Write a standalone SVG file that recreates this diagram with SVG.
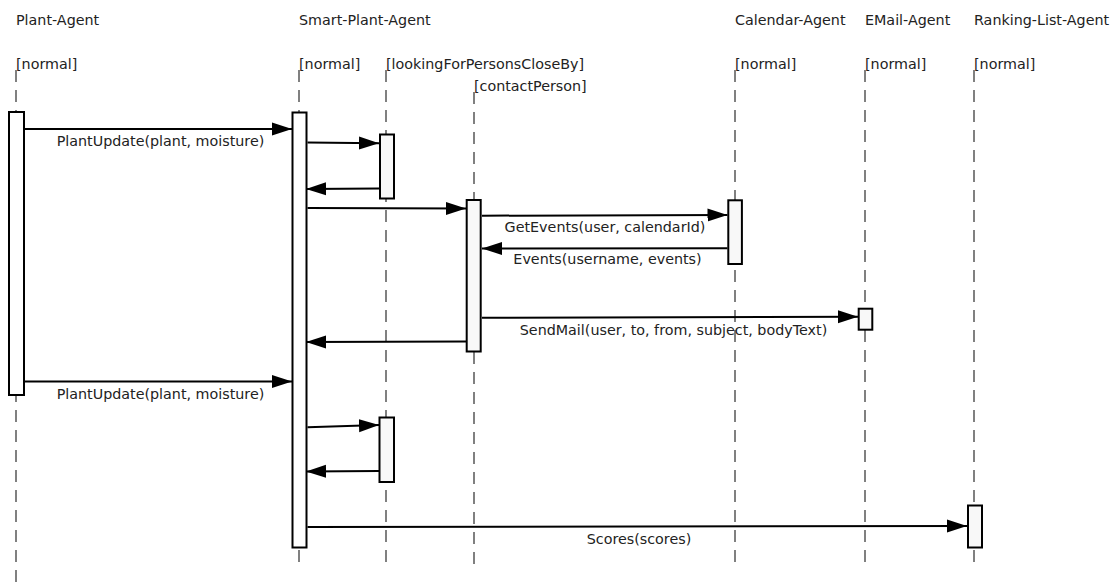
<svg xmlns="http://www.w3.org/2000/svg" width="1110" height="587" viewBox="0 0 1110 587">
  <style>
    text { font-family: "DejaVu Sans", "Liberation Sans", sans-serif; font-size: 14.3px; fill: #222; }
    .msg { text-anchor: middle; }
    .life { stroke: #808080; stroke-width: 2; stroke-dasharray: 12 8; fill: none; }
    .act { fill: #ffffff; stroke: #000; stroke-width: 2; }
    .act2 { fill: #f8f8f8; stroke: #000; stroke-width: 2; }
    .conn line { stroke: #000; stroke-width: 2; marker-end: url(#arrow); }
  </style>
  <defs>
    <marker id="arrow" markerUnits="userSpaceOnUse" markerWidth="20" markerHeight="14" refX="20" refY="7" orient="auto">
      <path d="M0,0.5 L20,7 L0,13.5 z" fill="#000"/>
    </marker>
  </defs>
  <rect width="1110" height="587" fill="#fff"/>

  <!-- lifelines with their headers -->
  <g id="plant-agent">
    <text x="16" y="25">Plant-Agent</text>
    <text x="16" y="68.5">[normal]</text>
    <line class="life" x1="16" y1="70" x2="16" y2="582"/>
  </g>
  <g id="smart-plant-agent">
    <text x="299" y="25">Smart-Plant-Agent</text>
    <text x="299" y="68.5">[normal]</text>
    <line class="life" x1="299" y1="70" x2="299" y2="570"/>
  </g>
  <g id="looking-for-persons">
    <text x="386" y="68.5">[lookingForPersonsCloseBy]</text>
    <line class="life" x1="386" y1="70" x2="386" y2="568"/>
  </g>
  <g id="contact-person">
    <text x="474" y="90.5">[contactPerson]</text>
    <line class="life" x1="474" y1="92" x2="474" y2="568"/>
  </g>
  <g id="calendar-agent">
    <text x="735" y="25">Calendar-Agent</text>
    <text x="735" y="68.5">[normal]</text>
    <line class="life" x1="735" y1="70" x2="735" y2="570"/>
  </g>
  <g id="email-agent">
    <text x="865" y="25">EMail-Agent</text>
    <text x="865" y="68.5">[normal]</text>
    <line class="life" x1="865" y1="70" x2="865" y2="566"/>
  </g>
  <g id="ranking-list-agent">
    <text x="974" y="25">Ranking-List-Agent</text>
    <text x="974" y="68.5">[normal]</text>
    <line class="life" x1="974" y1="70" x2="974" y2="570"/>
  </g>

  <!-- messages -->
  <g id="connectors" class="conn">
    <line x1="25" y1="129" x2="292" y2="129"/>
    <line x1="307.5" y1="142.5" x2="379" y2="143.3"/>
    <line x1="379" y1="188.5" x2="306" y2="189"/>
    <line x1="307.5" y1="208" x2="466" y2="208.5"/>
    <line x1="482" y1="215.7" x2="727.5" y2="215"/>
    <line x1="727.5" y1="248.3" x2="482" y2="248.5"/>
    <line x1="482" y1="317.7" x2="858" y2="316.7"/>
    <line x1="466" y1="341.5" x2="306" y2="342"/>
    <line x1="25" y1="381.5" x2="292" y2="381.5"/>
    <line x1="307.5" y1="427.3" x2="379" y2="425"/>
    <line x1="379" y1="471" x2="306" y2="471.5"/>
    <line x1="307.5" y1="527" x2="967" y2="526"/>
  </g>

  <!-- activation bars -->
  <g id="activations">
    <rect class="act" x="9" y="112" width="15" height="283"/>
    <rect class="act" x="292.5" y="112.5" width="14" height="435"/>
    <rect class="act2" x="380" y="134.5" width="14" height="64"/>
    <rect class="act2" x="379.5" y="417.5" width="14.5" height="64.5"/>
    <rect class="act2" x="466.7" y="200" width="14" height="151.5"/>
    <rect class="act2" x="728.3" y="200.3" width="13.6" height="63.7"/>
    <rect class="act2" x="858.7" y="308.7" width="13.6" height="21"/>
    <rect class="act2" x="968" y="505.5" width="14" height="42"/>
  </g>

  <!-- message labels -->
  <g id="labels">
    <text class="msg" x="160.5" y="146">PlantUpdate(plant, moisture)</text>
    <text class="msg" x="605" y="232">GetEvents(user, calendarId)</text>
    <text class="msg" x="607.5" y="264">Events(username, events)</text>
    <text class="msg" x="673.5" y="334.5">SendMail(user, to, from, subject, bodyText)</text>
    <text class="msg" x="160.5" y="399">PlantUpdate(plant, moisture)</text>
    <text class="msg" x="639" y="543.5">Scores(scores)</text>
  </g>
</svg>
